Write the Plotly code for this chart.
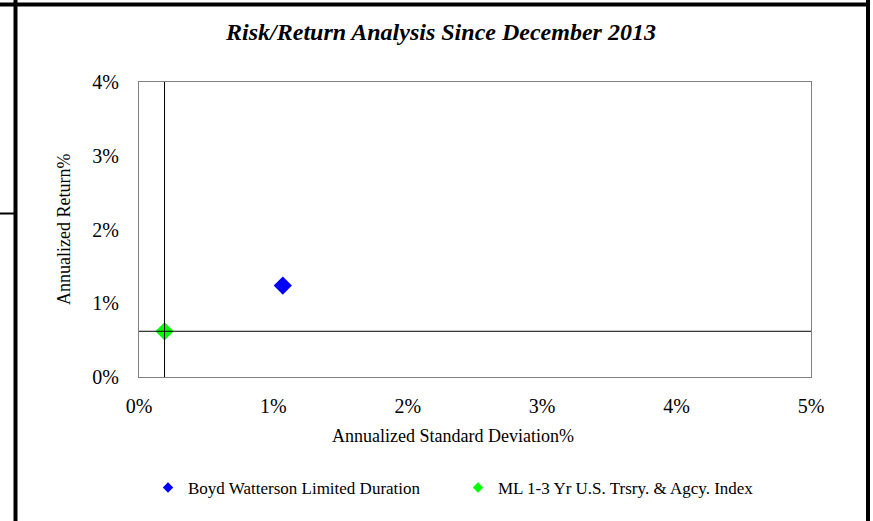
import plotly.graph_objects as go

series_names = ["Boyd Watterson Limited Duration", "ML 1-3 Yr U.S. Trsry. & Agcy. Index"]
std_dev = [1.07, 0.19]          # annualized standard deviation, %
returns = [1.24, 0.62]          # annualized return, %
colors = ["#0000FF", "#00FF00"]
x_ticks = [0, 1, 2, 3, 4, 5]
y_ticks = [0, 1, 2, 3, 4]

FONT = "Liberation Serif, Times New Roman, serif"

fig = go.Figure()
for i, (name, x, y, c) in enumerate(zip(series_names, std_dev, returns, colors)):
    fig.add_trace(go.Scatter(
        x=[x], y=[y], mode="markers", name=name, legendgroup=f"g{i}", showlegend=False,
        marker=dict(symbol="diamond", size=14, color=c, line=dict(width=0)),
    ))
# legend entries (smaller symbols, like the original key)
for i, (name, c) in enumerate(zip(series_names, colors)):
    fig.add_trace(go.Scatter(
        x=[None], y=[None], mode="markers", name=name, legendgroup=f"g{i}", showlegend=True,
        marker=dict(symbol="diamond", size=8, color=c, line=dict(width=0)),
    ))

bx, by = std_dev[1], returns[1]

W, H = 873, 521
L, R, T, B = 139, 811, 82, 377
pw, ph = R - L, B - T
def px(x): return (x - L) / pw
def py(y): return (B - y) / ph

shapes = [
    # crosshair through benchmark
    dict(type="line", xref="x", yref="y", x0=bx, x1=bx, y0=y_ticks[0], y1=y_ticks[-1],
         line=dict(color="black", width=1)),
    dict(type="line", xref="x", yref="y", x0=x_ticks[0], x1=x_ticks[-1], y0=by, y1=by,
         line=dict(color="black", width=1)),
    # page borders
    dict(type="line", xref="paper", yref="paper", x0=px(0), x1=px(870), y0=py(4.5), y1=py(4.5),
         line=dict(color="black", width=4)),
    dict(type="line", xref="paper", yref="paper", x0=px(15.5), x1=px(15.5), y0=py(0), y1=py(521),
         line=dict(color="black", width=4)),
    dict(type="line", xref="paper", yref="paper", x0=px(868), x1=px(868), y0=py(0), y1=py(521),
         line=dict(color="black", width=4)),
    dict(type="line", xref="paper", yref="paper", x0=px(0), x1=px(15.5), y0=py(213.5), y1=py(213.5),
         line=dict(color="black", width=2)),
]

fig.update_layout(
    width=W, height=H,
    margin=dict(l=L, r=W - R, t=T, b=H - B, pad=0),
    paper_bgcolor="white", plot_bgcolor="white",
    font=dict(family=FONT, color="black"),
    showlegend=True,
    shapes=shapes,
    title=dict(text="<b><i>Risk/Return Analysis Since December 2013</i></b>",
               x=px(441), xanchor="center", xref="paper", y=1 - 32 / H, yanchor="middle",
               font=dict(size=24, family=FONT, color="black")),
    xaxis=dict(range=[x_ticks[0], x_ticks[-1]], tickvals=x_ticks,
               ticktext=[f"{v}%" for v in x_ticks], showgrid=False, zeroline=False,
               showline=True, linecolor="#808080", linewidth=1, mirror=True,
               ticks="", tickfont=dict(size=20, family=FONT), ticklabelstandoff=11),
    yaxis=dict(range=[y_ticks[0], y_ticks[-1]], tickvals=y_ticks,
               ticktext=[f"{v}%" for v in y_ticks], showgrid=False, zeroline=False,
               showline=True, linecolor="#808080", linewidth=1, mirror=True,
               ticks="", tickfont=dict(size=20, family=FONT), ticklabelstandoff=15),
    legend=dict(orientation="h", x=px(148), xanchor="left", y=py(488), yanchor="middle",
                font=dict(size=17, family=FONT), entrywidth=265, itemwidth=30,
                bgcolor="rgba(0,0,0,0)"),
    annotations=[
        dict(text="Annualized Standard Deviation%", xref="paper", yref="paper",
             x=px(453), y=py(436), xanchor="center", yanchor="middle", showarrow=False,
             font=dict(size=18, family=FONT, color="black")),
        dict(text="Annualized Return%", xref="paper", yref="paper", textangle=-90,
             x=px(64), y=py(230), xanchor="center", yanchor="middle", showarrow=False,
             font=dict(size=18, family=FONT, color="black")),
    ],
)

fig.write_html("out.html", config={"displayModeBar": False},
               post_script="document.body.style.margin='0';document.body.style.overflow='hidden';")
